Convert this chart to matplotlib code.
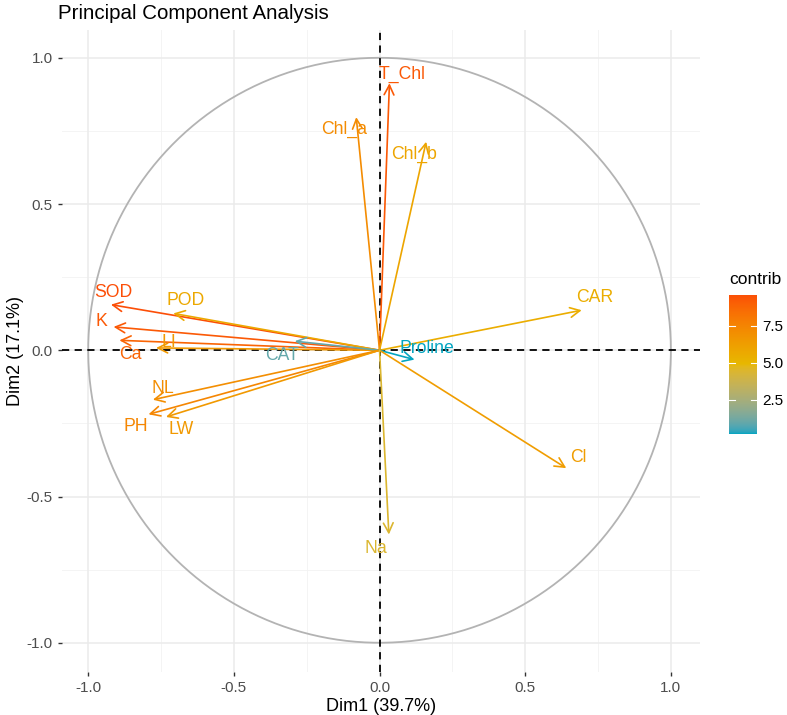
import matplotlib
matplotlib.use("Agg")
import matplotlib.pyplot as plt
import numpy as np
from matplotlib.colors import ListedColormap, Normalize, to_rgb

plt.rcParams['font.family'] = ['Liberation Sans', 'DejaVu Sans']

# variable coordinates on Dim1 / Dim2 and their contributions
variables = ['SOD', 'K', 'Ca', 'LI', 'POD', 'CAT', 'NL', 'PH', 'LW',
             'T_Chl', 'Chl_a', 'Chl_b', 'CAR', 'Proline', 'Cl', 'Na']
dim1 = [-0.922, -0.913, -0.893, -0.767, -0.708, -0.291, -0.778, -0.793, -0.733,
        0.034, -0.080, 0.160, 0.694, 0.120, 0.641, 0.032]
dim2 = [0.156, 0.080, 0.034, 0.008, 0.126, 0.031, -0.169, -0.219, -0.228,
        0.913, 0.797, 0.713, 0.137, -0.032, -0.403, -0.630]
contrib = [9.6, 9.2, 8.8, 6.5, 5.7, 0.94, 7.0, 7.4, 6.5,
           9.2, 7.1, 5.9, 5.5, 0.17, 6.3, 4.4]
cbar_ticks = [2.5, 5.0, 7.5]
grad_cols = ['#03A5C1', '#E7B800', '#FC4E07']

# label offsets (points) from arrow tips
lab_dx = [2, -9, 8, 9, 9, -9, 7, -9, 11, 9, -9, -9, 9, 9, 9, -9]
lab_dy = [9, 4, -10, 4, 9, -10, 8, -9, -9, 6, -9, -9, 9, 8, 8, -10]


# gradient interpolated in Lab space, like ggplot2
def to_lab(rgb):
    c = np.array(rgb)
    c = np.where(c > 0.04045, ((c + 0.055) / 1.055) ** 2.4, c / 12.92)
    m = np.array([[0.4124, 0.3576, 0.1805], [0.2126, 0.7152, 0.0722], [0.0193, 0.1192, 0.9505]])
    xyz = m @ c / np.array([0.95047, 1.0, 1.08883])
    f = np.where(xyz > 0.008856, np.cbrt(xyz), 7.787 * xyz + 16 / 116)
    return np.array([116 * f[1] - 16, 500 * (f[0] - f[1]), 200 * (f[1] - f[2])])


def from_lab(lab):
    fy = (lab[0] + 16) / 116
    f = np.array([fy + lab[1] / 500, fy, fy - lab[2] / 200])
    xyz = np.where(f ** 3 > 0.008856, f ** 3, (f - 16 / 116) / 7.787) * np.array([0.95047, 1.0, 1.08883])
    mi = np.array([[3.2406, -1.5372, -0.4986], [-0.9689, 1.8758, 0.0415], [0.0557, -0.2040, 1.0570]])
    c = mi @ xyz
    c = np.where(c > 0.0031308, 1.055 * np.clip(c, 0, None) ** (1 / 2.4) - 0.055, 12.92 * c)
    return np.clip(c, 0, 1)


labs = [to_lab(to_rgb(c)) for c in grad_cols]
cols = []
for s in np.linspace(0, 1, 256):
    seg = min(int(s * 2), 1)
    u = s * 2 - seg
    cols.append(from_lab(labs[seg] * (1 - u) + labs[seg + 1] * u))
cmap = ListedColormap(cols)
norm = Normalize(vmin=min(contrib), vmax=max(contrib))

fig = plt.figure(figsize=(7.87, 7.15), dpi=100)
ax = fig.add_axes([62/787, 1-672/715, 638/787, 642/715])

ax.set_xlim(-1.09, 1.1)
ax.set_ylim(-1.1, 1.095)

# grid like theme_minimal
for v in [-0.75, -0.25, 0.25, 0.75]:
    ax.axvline(v, color='#F2F2F2', lw=0.6, zorder=0)
    ax.axhline(v, color='#F2F2F2', lw=0.6, zorder=0)
for v in [-1, -0.5, 0, 0.5, 1]:
    ax.axvline(v, color='#EBEBEB', lw=1.1, zorder=0)
    ax.axhline(v, color='#EBEBEB', lw=1.1, zorder=0)

t = np.linspace(0, 2*np.pi, 400)
ax.plot(np.cos(t), np.sin(t), color='#B3B3B3', lw=1.3, zorder=1)
ax.axhline(0, color='black', ls=(0, (4, 3)), lw=1.3, zorder=2)
ax.axvline(0, color='black', ls=(0, (4, 3)), lw=1.3, zorder=2)

for name, x, y, c, dx, dy in zip(variables, dim1, dim2, contrib, lab_dx, lab_dy):
    col = cmap(norm(c))
    ax.annotate('', xy=(x, y), xytext=(0, 0),
                arrowprops=dict(arrowstyle='->,head_length=0.7,head_width=0.35',
                                color=col, lw=1.2, shrinkA=0, shrinkB=0), zorder=3)
    ax.annotate(name, xy=(x, y), xytext=(dx, dy), textcoords='offset points',
                ha='center', va='center', color=col, fontsize=12.7, zorder=4)

for s in ax.spines.values():
    s.set_visible(False)
ax.set_xticks([-1, -0.5, 0, 0.5, 1])
ax.set_yticks([-1, -0.5, 0, 0.5, 1])
ax.set_xticklabels(['-1.0', '-0.5', '0.0', '0.5', '1.0'])
ax.set_yticklabels(['-1.0', '-0.5', '0.0', '0.5', '1.0'])
ax.tick_params(length=3, width=1, color='#333333', labelcolor='#4D4D4D', labelsize=11)
ax.set_xlabel('Dim1 (39.7%)', fontsize=13, labelpad=2)
ax.set_ylabel('Dim2 (17.1%)', fontsize=13, labelpad=2)
ax.set_title('Principal Component Analysis', fontsize=14.8, loc='left', x=-0.006, pad=8)

# colourbar
cax = fig.add_axes([729/787, 1-434/715, 28/787, 139/715])
grad = np.linspace(norm.vmin, norm.vmax, 256).reshape(-1, 1)
cax.imshow(grad, aspect='auto', cmap=cmap, norm=norm, origin='lower',
           extent=[0, 1, norm.vmin, norm.vmax])
for tk in cbar_ticks:
    cax.plot([0, 0.2], [tk, tk], color='white', lw=0.8)
    cax.plot([0.8, 1], [tk, tk], color='white', lw=0.8)
cax.set_xlim(0, 1)
cax.set_ylim(norm.vmin, norm.vmax)
cax.set_xticks([])
cax.yaxis.tick_right()
cax.set_yticks(cbar_ticks)
cax.set_yticklabels(['2.5', '5.0', '7.5'])
cax.tick_params(axis='y', length=0, labelsize=11, labelcolor='black', pad=4)
for s in cax.spines.values():
    s.set_visible(False)
cax.set_title('contrib', fontsize=12.5, loc='left', pad=8)

fig.savefig('out.png', dpi=100)
